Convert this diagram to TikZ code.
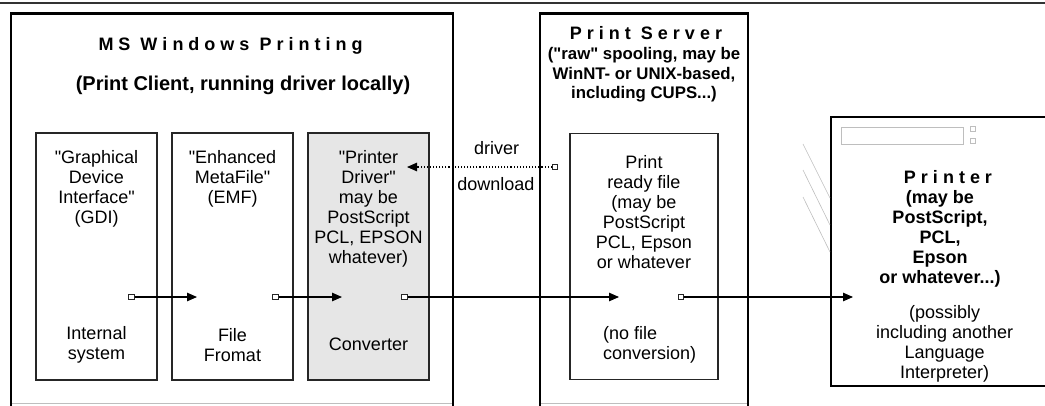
\documentclass[tikz,border=0pt]{standalone}
\usepackage{fontspec}
\setmainfont{Liberation Sans}[Ligatures=TeXOff]
\usetikzlibrary{arrows.meta}
\definecolor{drvgrey}{RGB}{230,230,230}
\definecolor{faint}{RGB}{190,190,190}
\tikzset{
  outerbox/.style={line width=2.8pt, draw=black},
  innerbox/.style={draw=black!85, line width=1.3pt, rectangle, inner sep=0pt},
  port/.style={draw=black!85, fill=white, line width=0.9pt, rectangle, minimum size=5.5pt, inner sep=0pt},
  flow/.style={line width=1.1pt, -{Triangle[length=10pt,width=8.5pt]}},
  dl/.style={line width=1.1pt, dotted, -{Triangle[length=10pt,width=8.5pt]}},
  txt/.style={font=\fontsize{18}{20}\selectfont, align=center, inner sep=0pt},
  btxt/.style={font=\fontsize{18}{20}\selectfont\bfseries, align=center, inner sep=0pt},
  stxt/.style={font=\fontsize{16.8}{19.8}\selectfont\bfseries, align=center, inner sep=0pt},
  faintline/.style={draw=faint, line width=0.6pt},
}
\begin{document}
\begin{tikzpicture}[x=1pt,y=-1pt]
\useasboundingbox (0,0) rectangle (1045,405);
\begin{scope}
\clip (0,0) rectangle (1045,405);
% top rule
\draw[line width=2.2pt, draw=black!80] (0,3) -- (1045,3);
% outer boxes
\draw[outerbox] (11,410) -- (11,13.5) -- (453,13.5) -- (453,410);
\draw[faintline] (12,403.5) -- (452,403.5);
\draw[outerbox] (540,410) -- (540,13.5) -- (748,13.5) -- (748,410);
\draw[faintline] (541,403.5) -- (747,403.5);
% inner boxes
\node[innerbox, minimum width=121pt, minimum height=247pt] (gdi) at (96.5,256.5) {};
\node[innerbox, minimum width=121pt, minimum height=247pt] (emf) at (232.5,256.5) {};
\node[innerbox, fill=drvgrey, minimum width=121pt, minimum height=247pt] (drv) at (368.5,256.5) {};
\node[innerbox, minimum width=148pt, minimum height=246pt] (prf) at (644,256.5) {};
% printer box
\draw[draw=black, line width=1.4pt] (1050,117) -- (831,117) -- (831,386) -- (1050,386);
\node[draw=faint, line width=1pt, rectangle, minimum width=122pt, minimum height=17pt, inner sep=0pt] (panel) at (902,135.5) {};
\node[draw=faint, line width=0.8pt, rectangle, minimum size=4.5pt, inner sep=0pt] (led1) at (973,129) {};
\node[draw=faint, line width=0.8pt, rectangle, minimum size=4.5pt, inner sep=0pt] (led2) at (973,141) {};
\draw[faintline] (803,144) -- (830,198);
\draw[faintline] (803,170) -- (830,225);
\draw[faintline] (803,197) -- (830,252);
\end{scope}
% titles
\node[btxt, anchor=base] (mstitle) at (230.5,50.5) {M\ S\ \ W i n d o w s\ \ P r i n t i n g};
\node[font=\fontsize{20}{22}\selectfont\bfseries, inner sep=0pt, anchor=base] (mssub) at (243,90) {(Print Client, running driver locally)};
\node[btxt, anchor=base] (srvtitle) at (646,39.5) {P r i n t\ \ S e r v e r};
\node[stxt, anchor=north] (srv) at (644,47) {("raw" spooling, may be\\WinNT- or UNIX-based,\\including CUPS...)};
% inner box texts
\node[txt, anchor=north] (gdit) at (96.5,150.5) {"Graphical\\Device\\Interface"\\(GDI)};
\node[txt, anchor=north] (gdib) at (96.5,326.5) {Internal\\system};
\node[txt, anchor=north] (emft) at (232.5,150.5) {"Enhanced\\MetaFile"\\(EMF)};
\node[txt, anchor=north] (emfb) at (232.5,328.5) {File\\Fromat};
\node[txt, anchor=north] (drvt) at (368.5,150.5) {"Printer\\Driver"\\may be\\PostScript\\PCL, EPSON\\whatever)};
\node[txt, anchor=north] (drvb) at (368.5,337.5) {Converter};
\node[txt, anchor=north] (prft) at (644,155.5) {Print\\ready file\\(may be\\PostScript\\PCL, Epson\\or whatever};
\node[txt, align=left, anchor=north west] (prfb) at (603,326.5) {(no file\\conversion)};
% printer texts
\node[btxt, anchor=north] (ptitle) at (948,170.5) {P r i n t e r};
\node[btxt, anchor=north] (pbold) at (940,190.5) {(may be\\PostScript,\\PCL,\\Epson\\or whatever...)};
\node[txt, anchor=north] (preg) at (944.7,305.5) {(possibly\\including another\\Language\\Interpreter)};
% download labels
\node[txt, anchor=base] (drvlbl) at (496.7,154.5) {driver};
\node[txt, anchor=base] (dllbl) at (495.8,190.5) {download};
% ports and flows
\node[port] (p1) at (131.5,297) {};
\node[port] (p2) at (275.5,297) {};
\node[port] (p3) at (404.5,297) {};
\node[port] (p4) at (681,297) {};
\node[port] (p5) at (555,167) {};
\coordinate (t1) at (197,297);
\coordinate (t2) at (342,297);
\coordinate (t3) at (619,297);
\coordinate (t4) at (853,297);
\coordinate (t5) at (407,167);
\draw[flow] (p1) -- (t1);
\draw[flow] (p2) -- (t2);
\draw[flow] (p3) -- (t3);
\draw[flow] (p4) -- (t4);
\draw[dl] (p5) -- (t5);
\end{tikzpicture}
\end{document}
